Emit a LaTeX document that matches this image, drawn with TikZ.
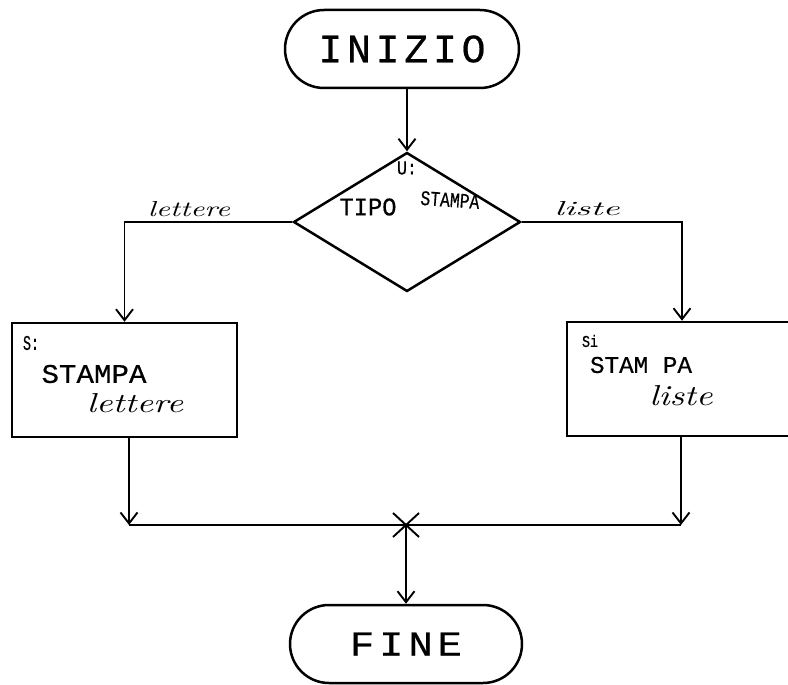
\documentclass[tikz,border=0pt]{standalone}
\usepackage{fontspec}
\usepackage{graphicx}
\usetikzlibrary{shapes.geometric,shapes.misc,arrows.meta}
% lettering: block capitals in a mono face, running words in italic
\newfontfamily\handcaps[LetterSpace=12,FakeBold=0.5]{Liberation Mono}
\newfontfamily\handmono[FakeBold=0.5]{Liberation Mono}
% set a word to an exact width and cap height
\newcommand{\fitto}[3]{\resizebox{#1pt}{#2pt}{#3}}

\begin{document}
\begin{tikzpicture}[x=1pt,y=-1pt,
  shapeline/.style={draw=black, line width=2.5pt},
  flow/.style={line width=1.9pt,
    -{Straight Barb[length=11pt,width=17pt,line width=1.9pt]}},
  link/.style={line width=1.9pt},
  terminal/.style={shapeline, rounded rectangle, minimum width=234pt,
    minimum height=78pt, inner sep=0pt},
  test/.style={shapeline, diamond, minimum width=227pt,
    minimum height=139pt, inner sep=0pt},
  stepbox/.style={shapeline, rectangle, minimum height=114pt, inner sep=0pt},
  handtext/.style={inner sep=0pt, anchor=center}
]
\useasboundingbox (0,0) rectangle (788,685);
\clip (0,0) rectangle (788,685);
\fill[white] (0,0) rectangle (788,685);

% terminals
\node[terminal] (start) at (402,49) {\fitto{167}{27}{\handcaps INIZIO}};
\node[terminal, minimum width=232pt] (fine) at (406,644)
  {\fitto{112}{23}{\handcaps FINE}};

% decision
\node[test] (dec) at (407,222) {};
\node[handtext] (decU) at (407,168) {\fitto{20}{13}{\handmono U:}};
\node[handtext] (decTipo) at (368,207) {\fitto{57}{17}{\handmono TIPO}};
\node[handtext, rotate=-4] (decStampa) at (450,200)
  {\fitto{59}{14}{\handmono STAMPA}};

% left process
\node[stepbox, minimum width=225pt] (lb) at (124.5,380) {};
\node[handtext] (lbS) at (31,343) {\fitto{16}{14}{\handmono S:}};
\node[handtext] (lbStampa) at (94,374) {\fitto{105}{18}{\handmono STAMPA}};
\node[handtext] (lbLettere) at (135,403) {\fitto{96}{19}{\itshape lettere}};

% right process
\node[stepbox, minimum width=230pt] (rb) at (682,379) {};
\node[handtext] (rbS) at (590,341) {\fitto{16}{12}{\handmono Si}};
\node[handtext] (rbStampa) at (641,365) {\fitto{102}{16}{\handmono STAM PA}};
\node[handtext] (rbListe) at (681,396) {\fitto{63}{20}{\itshape liste}};

% branch labels
\node[handtext] (lblL) at (189,209) {\fitto{82}{15}{\itshape lettere}};
\node[handtext] (lblR) at (587,209) {\fitto{65}{14}{\itshape liste}};

% junction points
\coordinate (jl) at (129,525);
\coordinate (jr) at (681,525);
\coordinate (j) at (406,525);

% connectors
\draw[flow] (start.south -| dec.north) -- (dec.north);
\draw[flow] (dec.west) -| (lb.north);
\draw[flow] (dec.east) -| (rb.north);
\draw[flow] (lb.south -| jl) -- (jl);
\draw[flow] (rb.south -| jr) -- (jr);
\draw[link] (jl) -- (jr);
\draw[link] ([shift={(-13,-12)}]j) -- ([shift={(13,12)}]j);
\draw[link] ([shift={(-13,12)}]j) -- ([shift={(13,-12)}]j);
\draw[flow] (j) -- (fine.north);
\end{tikzpicture}
\end{document}
